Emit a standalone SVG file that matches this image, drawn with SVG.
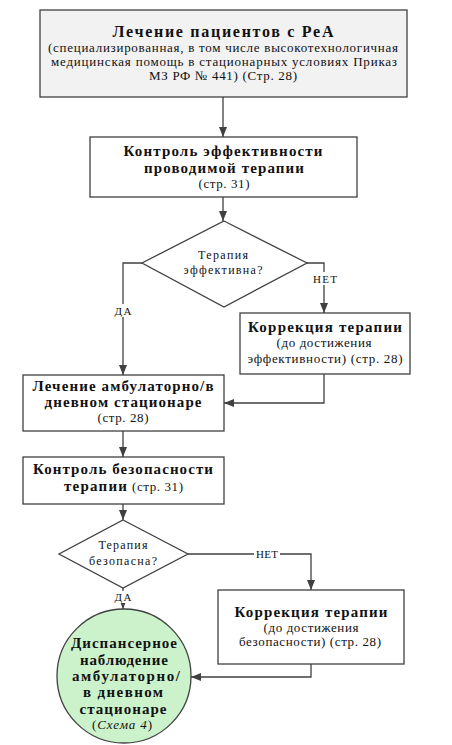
<svg xmlns="http://www.w3.org/2000/svg" width="452" height="745" viewBox="0 0 452 745" font-family="Liberation Serif, Times New Roman, Tinos, DejaVu Serif, Noto Serif, serif">
<style>
.box{fill:#ffffff;stroke:#404040;stroke-width:1.3}
.gray{fill:#f2f2f2}
.circ{fill:#ccf2cc;stroke:#404040;stroke-width:1.3}
.conn{fill:none;stroke:#404040;stroke-width:1.3}
text{fill:#111;text-anchor:middle}
.b{font-weight:bold;font-size:15px}
.t{font-weight:bold;font-size:16px}
.n{font-size:13px}
.s{font-size:12px}
.lbl{font-size:11px}
.lblbg{fill:#ffffff}
</style>
<defs>
<marker id="arr" markerUnits="userSpaceOnUse" markerWidth="10" markerHeight="8" refX="10" refY="4" orient="auto">
<path d="M0,0 L10,4 L0,8 z" fill="#404040"/>
</marker>
</defs>

<g id="connectors">
<path class="conn" d="M223,97 V137" marker-end="url(#arr)"/>
<path class="conn" d="M223,197 V221" marker-end="url(#arr)"/>
<path class="conn" d="M142,263 H123 V375" marker-end="url(#arr)"/>
<path class="conn" d="M307,263 H324 V313" marker-end="url(#arr)"/>
<path class="conn" d="M324,374 V403 H224" marker-end="url(#arr)"/>
<path class="conn" d="M123,431 V457" marker-end="url(#arr)"/>
<path class="conn" d="M123,504 V520" marker-end="url(#arr)"/>
<path class="conn" d="M188,554 H311 V590" marker-end="url(#arr)"/>
<path class="conn" d="M123,588 V609" marker-end="url(#arr)"/>
<path class="conn" d="M311,664 V677 H191" marker-end="url(#arr)"/>
<rect class="lblbg" x="112" y="304" width="22" height="13"/>
<text class="lbl" x="123" y="315" textLength="17" lengthAdjust="spacing">ДА</text>
<rect class="lblbg" x="311" y="272" width="28" height="13"/>
<text class="lbl" x="325" y="283" textLength="24" lengthAdjust="spacing">НЕТ</text>
<rect class="lblbg" x="254" y="547" width="26" height="13"/>
<text class="lbl" x="267" y="558" textLength="22" lengthAdjust="spacing">НЕТ</text>
<rect class="lblbg" x="112" y="591" width="22" height="12"/>
<text class="lbl" x="123" y="601" textLength="17" lengthAdjust="spacing">ДА</text>
</g>

<g id="n1">
<rect class="box gray" x="40" y="10" width="367" height="87"/>
<text class="t" x="223" y="37" textLength="221" lengthAdjust="spacing">Лечение пациентов с РеА</text>
<text class="n" x="223" y="52" textLength="350" lengthAdjust="spacing">(специализированная, в том числе высокотехнологичная</text>
<text class="n" x="224" y="66" textLength="346" lengthAdjust="spacing">медицинская помощь в стационарных условиях Приказ</text>
<text class="n" x="223" y="80" textLength="148" lengthAdjust="spacing">МЗ РФ № 441) (Стр. 28)</text>
</g>

<g id="n2">
<rect class="box" x="90" y="137" width="267" height="60"/>
<text class="b" x="223" y="156" textLength="199" lengthAdjust="spacing">Контроль эффективности</text>
<text class="b" x="224" y="173" textLength="160" lengthAdjust="spacing">проводимой терапии</text>
<text class="n" x="224" y="188" textLength="51" lengthAdjust="spacing">(стр. 31)</text>
</g>

<g id="d1">
<polygon class="box" points="224,221 307,263 224,307 142,263"/>
<text class="s" x="223" y="259" textLength="50" lengthAdjust="spacing">Терапия</text>
<text class="s" x="223" y="274" textLength="79" lengthAdjust="spacing">эффективна?</text>
</g>

<g id="n4">
<rect class="box" x="240" y="313" width="170" height="61"/>
<text class="b" x="325" y="332" textLength="154" lengthAdjust="spacing">Коррекция терапии</text>
<text class="n" x="324" y="347" textLength="95" lengthAdjust="spacing">(до достижения</text>
<text class="n" x="325" y="363" textLength="155" lengthAdjust="spacing">эффективности) (стр. 28)</text>
</g>

<g id="n3">
<rect class="box" x="23" y="375" width="201" height="56"/>
<text class="b" x="123" y="391" textLength="181" lengthAdjust="spacing">Лечение амбулаторно/в</text>
<text class="b" x="123" y="407" textLength="157" lengthAdjust="spacing">дневном стационаре</text>
<text class="n" x="123" y="422" textLength="51" lengthAdjust="spacing">(стр. 28)</text>
</g>

<g id="n5">
<rect class="box" x="23" y="457" width="201" height="47"/>
<text class="b" x="123" y="474" textLength="180" lengthAdjust="spacing">Контроль безопасности</text>
<text x="64" y="491" style="text-anchor:start"><tspan class="b" textLength="63" lengthAdjust="spacing">терапии</tspan><tspan class="n" x="132" textLength="51" lengthAdjust="spacing">(стр. 31)</tspan></text>
</g>

<g id="d2">
<polygon class="box" points="123,520 188,554 123,588 59,554"/>
<text class="s" x="123" y="549" textLength="49" lengthAdjust="spacing">Терапия</text>
<text class="s" x="123" y="565" textLength="68" lengthAdjust="spacing">безопасна?</text>
</g>

<g id="n6">
<rect class="box" x="218" y="590" width="186" height="74"/>
<text class="b" x="311" y="617" textLength="153" lengthAdjust="spacing">Коррекция терапии</text>
<text class="n" x="311" y="632" textLength="95" lengthAdjust="spacing">(до достижения</text>
<text class="n" x="310" y="646" textLength="142" lengthAdjust="spacing">безопасности) (стр. 28)</text>
</g>

<g id="n7">
<circle class="circ" cx="124" cy="676" r="67"/>
<text class="b" x="124" y="648" textLength="106" lengthAdjust="spacing">Диспансерное</text>
<text class="b" x="124" y="665" textLength="88" lengthAdjust="spacing">наблюдение</text>
<text class="b" x="126" y="681" textLength="108" lengthAdjust="spacing">амбулаторно/</text>
<text class="b" x="123" y="697" textLength="80" lengthAdjust="spacing">в дневном</text>
<text class="b" x="123" y="714" textLength="87" lengthAdjust="spacing">стационаре</text>
<text class="n" x="122" y="729" textLength="60" lengthAdjust="spacing">(<tspan font-style="italic">Схема 4</tspan>)</text>
</g>
</svg>
